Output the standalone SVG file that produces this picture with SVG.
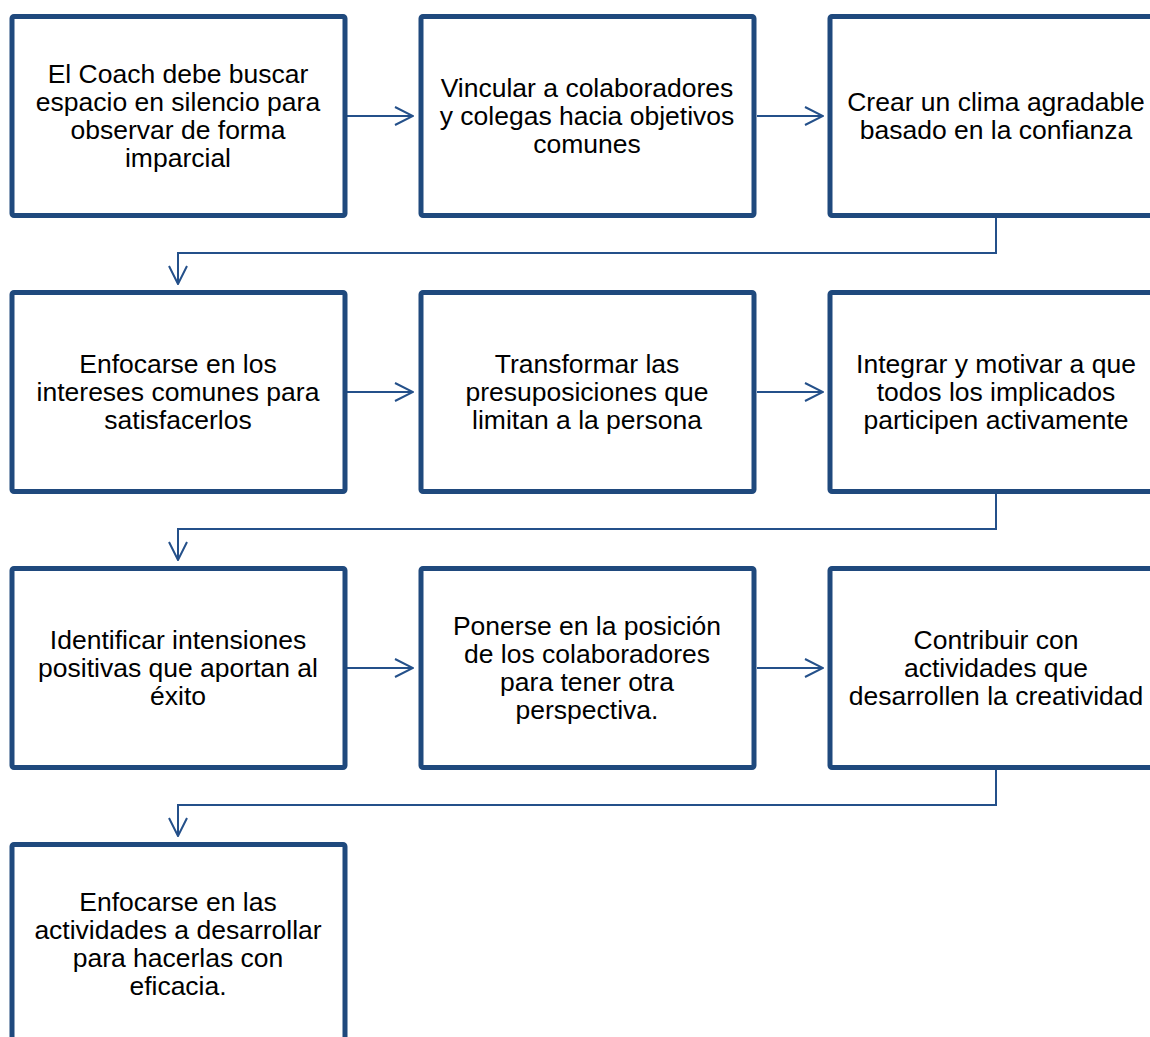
<svg xmlns="http://www.w3.org/2000/svg" width="1150" height="1037" viewBox="0 0 1150 1037">
<defs>
<style>
.box{fill:#fff;stroke:#1F497D;stroke-width:5;}
.t{font-family:"Liberation Sans",Arial,sans-serif;font-size:26.5px;fill:#000;text-anchor:middle;}
.c{fill:none;stroke:#24508A;stroke-width:2;}
</style>
<marker id="ah" viewBox="0 0 20 20" refX="19" refY="10" markerWidth="20" markerHeight="20" markerUnits="userSpaceOnUse" orient="auto">
<path d="M1,1 L19,10 L1,19" fill="none" stroke="#24508A" stroke-width="2"/>
</marker>
</defs>
<rect width="1150" height="1037" fill="#fff"/>
<g id="connectors">
<path class="c" d="M347,116 H413" marker-end="url(#ah)"/>
<path class="c" d="M757,116 H823" marker-end="url(#ah)"/>
<path class="c" d="M996,218 V253 H178 V284" marker-end="url(#ah)"/>
<path class="c" d="M347,392 H413" marker-end="url(#ah)"/>
<path class="c" d="M757,392 H823" marker-end="url(#ah)"/>
<path class="c" d="M996,494 V529 H178 V560" marker-end="url(#ah)"/>
<path class="c" d="M347,668 H413" marker-end="url(#ah)"/>
<path class="c" d="M757,668 H823" marker-end="url(#ah)"/>
<path class="c" d="M996,770 V805 H178 V836" marker-end="url(#ah)"/>
</g>
<g id="n1"><rect class="box" x="12" y="16.5" width="333" height="199" rx="2"/>
<text class="t" x="178"><tspan x="178" y="83">El Coach debe buscar</tspan><tspan x="178" y="111">espacio en silencio para</tspan><tspan x="178" y="139">observar de forma</tspan><tspan x="178" y="167">imparcial</tspan></text></g>
<g id="n2"><rect class="box" x="421" y="16.5" width="333" height="199" rx="2"/>
<text class="t"><tspan x="587" y="97">Vincular a colaboradores</tspan><tspan x="587" y="125">y colegas hacia objetivos</tspan><tspan x="587" y="153">comunes</tspan></text></g>
<g id="n3"><rect class="box" x="830" y="16.5" width="333" height="199" rx="2"/>
<text class="t"><tspan x="996" y="111">Crear un clima agradable</tspan><tspan x="996" y="139">basado en la confianza</tspan></text></g>
<g id="n4"><rect class="box" x="12" y="292.5" width="333" height="199" rx="2"/>
<text class="t"><tspan x="178" y="373">Enfocarse en los</tspan><tspan x="178" y="401">intereses comunes para</tspan><tspan x="178" y="429">satisfacerlos</tspan></text></g>
<g id="n5"><rect class="box" x="421" y="292.5" width="333" height="199" rx="2"/>
<text class="t"><tspan x="587" y="373">Transformar las</tspan><tspan x="587" y="401">presuposiciones que</tspan><tspan x="587" y="429">limitan a la persona</tspan></text></g>
<g id="n6"><rect class="box" x="830" y="292.5" width="333" height="199" rx="2"/>
<text class="t"><tspan x="996" y="373">Integrar y motivar a que</tspan><tspan x="996" y="401">todos los implicados</tspan><tspan x="996" y="429">participen activamente</tspan></text></g>
<g id="n7"><rect class="box" x="12" y="568.5" width="333" height="199" rx="2"/>
<text class="t"><tspan x="178" y="649">Identificar intensiones</tspan><tspan x="178" y="677">positivas que aportan al</tspan><tspan x="178" y="705">éxito</tspan></text></g>
<g id="n8"><rect class="box" x="421" y="568.5" width="333" height="199" rx="2"/>
<text class="t"><tspan x="587" y="635">Ponerse en la posición</tspan><tspan x="587" y="663">de los colaboradores</tspan><tspan x="587" y="691">para tener otra</tspan><tspan x="587" y="719">perspectiva.</tspan></text></g>
<g id="n9"><rect class="box" x="830" y="568.5" width="333" height="199" rx="2"/>
<text class="t"><tspan x="996" y="649">Contribuir con</tspan><tspan x="996" y="677">actividades que</tspan><tspan x="996" y="705">desarrollen la creatividad</tspan></text></g>
<g id="n10"><rect class="box" x="12" y="844.5" width="333" height="199" rx="2"/>
<text class="t"><tspan x="178" y="911">Enfocarse en las</tspan><tspan x="178" y="939">actividades a desarrollar</tspan><tspan x="178" y="967">para hacerlas con</tspan><tspan x="178" y="995">eficacia.</tspan></text></g>
</svg>
